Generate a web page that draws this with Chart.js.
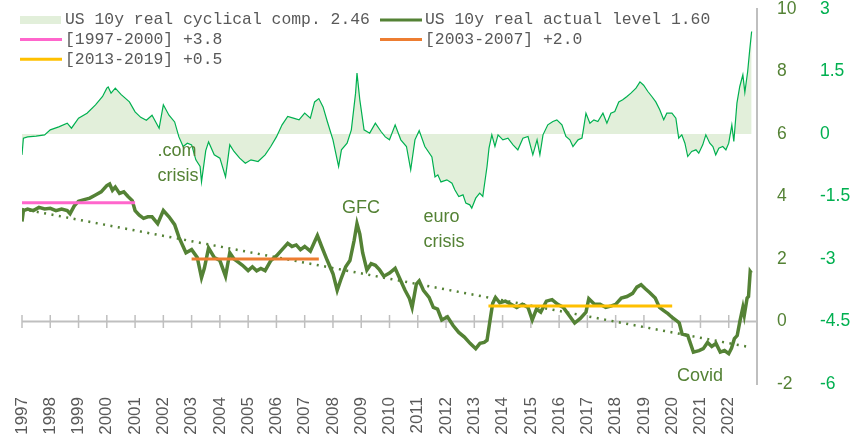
<!DOCTYPE html>
<html>
<head>
<meta charset="utf-8">
<script src="https://cdn.jsdelivr.net/npm/chart.js@4.4.1/dist/chart.umd.min.js"></script>
<style>
  html, body { margin: 0; padding: 0; background: #fff; }
  #wrap { position: relative; width: 866px; height: 437px; }
</style>
</head>
<body>
<div id="wrap"><canvas id="chart"></canvas></div>
<script>
// US 10y real yield: actual level (left scale) and cyclical component (right scale)
const levelYears = [
  1997.0, 1997.05, 1997.2, 1997.4, 1997.6, 1997.8, 1998.0, 1998.2, 1998.4, 1998.6, 1998.7, 1998.85,
  1999.0, 1999.2, 1999.4, 1999.6, 1999.8, 2000.0, 2000.1, 2000.2, 2000.3, 2000.45, 2000.6, 2000.75,
  2000.9, 2001.0, 2001.15, 2001.3, 2001.45, 2001.6, 2001.8, 2002.0, 2002.2, 2002.4, 2002.55, 2002.7,
  2002.8, 2003.0, 2003.2, 2003.35, 2003.45, 2003.6, 2003.8, 2004.0, 2004.2, 2004.35, 2004.5, 2004.65,
  2004.8, 2005.0, 2005.15, 2005.3, 2005.45, 2005.6, 2005.8, 2006.0, 2006.2, 2006.4, 2006.55, 2006.7,
  2006.85, 2007.0, 2007.2, 2007.35, 2007.45, 2007.6, 2007.8, 2008.0, 2008.15, 2008.3, 2008.45, 2008.6,
  2008.75, 2008.85, 2008.95, 2009.05, 2009.2, 2009.35, 2009.5, 2009.65, 2009.8, 2010.0, 2010.2, 2010.35,
  2010.55, 2010.7, 2010.8, 2010.95, 2011.05, 2011.2, 2011.4, 2011.55, 2011.7, 2011.85, 2012.05, 2012.25,
  2012.45, 2012.65, 2012.85, 2013.05, 2013.2, 2013.35, 2013.45, 2013.55, 2013.65, 2013.75, 2013.9, 2014.1,
  2014.3, 2014.5, 2014.7, 2014.9, 2015.05, 2015.2, 2015.35, 2015.55, 2015.75, 2015.95, 2016.15, 2016.35,
  2016.55, 2016.75, 2016.95, 2017.05, 2017.25, 2017.45, 2017.65, 2017.85, 2018.0, 2018.2, 2018.4, 2018.6,
  2018.75, 2018.9, 2019.05, 2019.2, 2019.4, 2019.55, 2019.7, 2019.85, 2020.0, 2020.15, 2020.25, 2020.35,
  2020.55, 2020.75, 2020.95, 2021.1, 2021.25, 2021.4, 2021.55, 2021.7, 2021.85, 2022.0, 2022.1, 2022.2,
  2022.3, 2022.4, 2022.5, 2022.55, 2022.65, 2022.7, 2022.76, 2022.8
];
const levelValues = [
  3.2, 3.55, 3.6, 3.55, 3.65, 3.6, 3.62, 3.55, 3.6, 3.55, 3.45, 3.7,
  3.85, 3.9, 3.95, 4.05, 4.15, 4.35, 4.4, 4.2, 4.3, 4.1, 4.15, 4.0,
  3.87, 3.55, 3.4, 3.3, 3.35, 3.35, 3.13, 3.55, 3.35, 3.1, 2.7, 2.4,
  2.2, 2.3, 2.05, 1.4, 1.7, 2.35, 2.05, 1.95, 1.45, 2.2, 2.0, 1.9,
  1.8, 1.63, 1.75, 1.62, 1.7, 1.63, 1.95, 2.1, 2.3, 2.5, 2.4, 2.45,
  2.3, 2.4, 2.25, 2.55, 2.75, 2.4, 1.95, 1.53, 1.0, 1.4, 1.75, 1.95,
  2.6, 3.13, 2.8, 2.2, 1.65, 1.85, 1.8, 1.65, 1.45, 1.55, 1.7, 1.4,
  1.0, 0.75, 0.45, 1.2, 1.3, 1.0, 0.77, 0.45, 0.4, 0.05, 0.15, -0.13,
  -0.35, -0.5, -0.7, -0.87, -0.7, -0.67, -0.6, 0.0, 0.58, 0.77, 0.6, 0.65,
  0.55, 0.45, 0.55, 0.45, 0.05, 0.4, 0.3, 0.65, 0.7, 0.55, 0.45, 0.2,
  -0.05, 0.1, 0.3, 0.73, 0.55, 0.55, 0.45, 0.5, 0.55, 0.75, 0.8, 0.9,
  1.1, 1.18, 1.05, 0.93, 0.75, 0.45, 0.35, 0.25, 0.13, 0.03, -0.05, -0.4,
  -0.45, -0.98, -0.93, -0.87, -0.67, -0.8, -0.7, -0.98, -0.93, -1.03, -0.85, -0.55,
  -0.45, 0.03, 0.45, 0.2, 0.75, 0.8, 1.6, 1.55
];

const cycYears = [
  1997.0, 1997.05, 1997.2, 1997.5, 1997.8, 1998.0, 1998.3, 1998.6, 1998.75, 1999.0, 1999.3, 1999.6,
  1999.85, 2000.0, 2000.05, 2000.15, 2000.3, 2000.5, 2000.8, 2001.0, 2001.2, 2001.4, 2001.6, 2001.85,
  2002.0, 2002.2, 2002.4, 2002.55, 2002.7, 2002.85, 2003.0, 2003.15, 2003.3, 2003.35, 2003.5, 2003.6,
  2003.8, 2004.0, 2004.2, 2004.35, 2004.5, 2004.7, 2004.9, 2005.1, 2005.35, 2005.6, 2005.8, 2006.0,
  2006.2, 2006.4, 2006.6, 2006.8, 2007.0, 2007.2, 2007.35, 2007.5, 2007.65, 2007.8, 2008.0, 2008.15,
  2008.2, 2008.3, 2008.5, 2008.65, 2008.8, 2008.85, 2008.95, 2009.1, 2009.3, 2009.5, 2009.7, 2009.85,
  2010.0, 2010.2, 2010.4, 2010.6, 2010.75, 2010.9, 2011.05, 2011.25, 2011.5, 2011.61, 2011.71, 2011.82,
  2012.03, 2012.21, 2012.31, 2012.45, 2012.6, 2012.7, 2012.84, 2012.91, 2013.05, 2013.19, 2013.3, 2013.45,
  2013.52, 2013.62, 2013.73, 2013.84, 2014.01, 2014.19, 2014.37, 2014.54, 2014.72, 2014.9, 2015.07, 2015.22,
  2015.32, 2015.43, 2015.6, 2015.78, 2015.92, 2016.1, 2016.24, 2016.38, 2016.49, 2016.67, 2016.81, 2016.95,
  2017.09, 2017.23, 2017.37, 2017.55, 2017.69, 2017.83, 2017.97, 2018.11, 2018.25, 2018.4, 2018.54, 2018.72,
  2018.86, 2018.99, 2019.14, 2019.28, 2019.42, 2019.56, 2019.7, 2019.81, 2019.99, 2020.13, 2020.23, 2020.34,
  2020.45, 2020.55, 2020.69, 2020.84, 2020.94, 2021.08, 2021.19, 2021.33, 2021.44, 2021.54, 2021.65, 2021.79,
  2021.9, 2022.0, 2022.11, 2022.18, 2022.29, 2022.39, 2022.5, 2022.57, 2022.67, 2022.74, 2022.81
];
const cycValues = [
  -0.5, -0.1, -0.07, -0.05, -0.02, 0.1, 0.17, 0.26, 0.14, 0.38, 0.5, 0.7,
  0.9, 1.1, 1.13, 0.98, 1.1, 0.95, 0.77, 0.53, 0.4, 0.33, 0.45, 0.14,
  0.7, 0.45, 0.29, -0.07, -0.3, -0.22, -0.26, -0.62, -0.78, -1.15, -0.4, -0.19,
  -0.5, -0.58, -1.03, -0.26, -0.42, -0.58, -0.7, -0.62, -0.66, -0.5, -0.3, -0.07,
  0.22, 0.42, 0.38, 0.34, 0.5, 0.38, 0.77, 0.85, 0.65, 0.3, -0.14, -0.62,
  -0.78, -0.38, -0.22, 0.1, 0.98, 1.46, 0.82, 0.1, 0.02, 0.26, 0.06, -0.07,
  -0.14, 0.22, -0.14, -0.3, -0.86, -0.14, 0.08, -0.3, -0.55, -1.03, -0.98, -1.15,
  -1.1, -1.18, -1.34, -1.5, -1.46, -1.66, -1.7, -1.78, -1.54, -1.42, -1.5, -0.78,
  -0.34, -0.02, -0.3, -0.02, -0.14, -0.1, -0.26, -0.38, -0.1, -0.06, -0.5, -0.14,
  -0.5, -0.02, 0.22, 0.3, 0.34, 0.22, -0.06, -0.14, -0.3, -0.14, -0.1, 0.5,
  0.26, 0.34, 0.3, 0.5, 0.26, 0.5, 0.54, 0.77, 0.82, 0.9, 0.98, 1.1,
  1.25, 1.17, 1.02, 0.9, 0.77, 0.58, 0.34, 0.5, 0.5, 0.38, -0.1, -0.02,
  -0.22, -0.54, -0.42, -0.38, -0.46, -0.26, -0.02, -0.22, -0.3, -0.5, -0.34, -0.3,
  -0.38, -0.22, 0.22, -0.18, 0.74, 1.14, 1.42, 1.0, 1.5, 2.0, 2.46
];

// regime averages (flat segments on the level scale)
const rangeLabels = ['[1997-2000] +3.8', '[2003-2007] +2.0', '[2013-2019] +0.5'];
const rangeStart = [1997.0, 2003.0, 2013.5];
const rangeEnd = [2001.0, 2007.5, 2020.0];
const rangeLevel = [3.8, 2.0, 0.5];
const rangeColors = ['#FF66CC', '#ED7D31', '#FFC000'];

// long-run trend of the actual level
const trendYears = [1997.0, 2022.8];
const trendValues = [3.6, -0.83];

// event notes, placed in data coordinates (year, level)
const noteLines = [['.com', 'crisis'], ['GFC'], ['euro', 'crisis'], ['Covid']];
const noteYears = [2001.79, 2008.32, 2011.2, 2020.17];
const noteLevels = [4.51, 3.46, 2.37, -1.89];

const GREEN_DARK = '#548235';
const GREEN_LIGHT = '#00B050';
const SANS = '"Liberation Sans", Arial, sans-serif';

function pts(xs, ys) {
  return xs.map((x, i) => ({ x: x, y: ys[i] }));
}

const datasets = [
  {
    label: 'US 10y real cyclical comp. 2.46',
    data: pts(cycYears, cycValues),
    yAxisID: 'yC',
    borderColor: GREEN_LIGHT,
    borderWidth: 1.2,
    backgroundColor: '#E2EFDA',
    fill: 'origin',
    order: 4,
    inLegend: true
  },
  {
    label: 'US 10y real actual level 1.60',
    data: pts(levelYears, levelValues),
    yAxisID: 'yL',
    borderColor: GREEN_DARK,
    borderWidth: 3.5,
    fill: false,
    order: 2,
    inLegend: true
  }
];
rangeLabels.forEach((lab, i) => {
  datasets.push({
    label: lab,
    data: [{ x: rangeStart[i], y: rangeLevel[i] }, { x: rangeEnd[i], y: rangeLevel[i] }],
    yAxisID: 'yL',
    borderColor: rangeColors[i],
    borderWidth: 3,
    fill: false,
    order: 0,
    inLegend: true
  });
});
datasets.push({
  label: 'trend',
  data: pts(trendYears, trendValues),
  yAxisID: 'yL',
  borderColor: GREEN_DARK,
  borderWidth: 2.5,
  borderDash: [2, 5.5],
  fill: false,
  order: 1,
  inLegend: false
});

// horizontal axis line drawn at level 0, with a tick at every year
const zeroAxis = {
  id: 'zeroAxis',
  beforeDatasetsDraw(chart) {
    const ctx = chart.ctx;
    const xs = chart.scales.x;
    const y0 = chart.scales.yL.getPixelForValue(0);
    ctx.save();
    ctx.strokeStyle = '#BFBFBF';
    ctx.lineWidth = 2;
    ctx.beginPath();
    ctx.moveTo(xs.left, y0);
    ctx.lineTo(xs.right, y0);
    ctx.stroke();
    ctx.lineWidth = 1.5;
    xs.ticks.forEach(t => {
      const px = xs.getPixelForValue(t.value);
      ctx.beginPath();
      ctx.moveTo(px, y0 - 6.5);
      ctx.lineTo(px, y0 + 6.5);
      ctx.stroke();
    });
    ctx.restore();
  }
};

const notes = {
  id: 'notes',
  afterDatasetsDraw(chart) {
    const ctx = chart.ctx;
    ctx.save();
    ctx.font = '18px ' + SANS;
    ctx.fillStyle = GREEN_DARK;
    ctx.textBaseline = 'alphabetic';
    noteLines.forEach((lines, i) => {
      const px = chart.scales.x.getPixelForValue(noteYears[i]);
      const py = chart.scales.yL.getPixelForValue(noteLevels[i]);
      const n = lines.length;
      lines.forEach((s, j) => {
        ctx.fillText(s, px, py - (n - 1 - j) * 25);
      });
    });
    ctx.restore();
  }
};

// two-column legend in the top-left corner
const pairLegend = {
  id: 'pairLegend',
  afterDraw(chart) {
    const ctx = chart.ctx;
    const items = chart.data.datasets.filter(d => d.inLegend);
    ctx.save();
    ctx.font = '16.4px "Liberation Mono", "Courier New", monospace';
    ctx.textBaseline = 'middle';
    items.forEach((d, i) => {
      const x = i % 2 ? 380 : 20;
      const y = 20 + Math.floor(i / 2) * 19.6;
      if (d.fill) {
        ctx.fillStyle = d.backgroundColor;
        ctx.fillRect(x, y - 4, 41, 8);
      } else {
        ctx.strokeStyle = d.borderColor;
        ctx.lineWidth = 3;
        ctx.beginPath();
        ctx.moveTo(x, y);
        ctx.lineTo(x + 42, y);
        ctx.stroke();
      }
      ctx.fillStyle = '#595959';
      ctx.fillText(d.label, x + 45, y);
    });
    ctx.restore();
  }
};

new Chart(document.getElementById('chart'), {
  type: 'line',
  data: { datasets: datasets },
  options: {
    responsive: true,
    maintainAspectRatio: false,
    animation: false,
    layout: { padding: { left: 22, top: 9, right: 0, bottom: 0 } },
    elements: { point: { radius: 0 }, line: { tension: 0 } },
    plugins: {
      legend: { display: false },
      tooltip: { enabled: false },
      title: { display: false }
    },
    scales: {
      x: {
        type: 'linear',
        min: 1997,
        max: 2023,
        grid: { display: false, drawTicks: false },
        border: { display: false },
        ticks: {
          stepSize: 1,
          autoSkip: false,
          minRotation: 90,
          maxRotation: 90,
          padding: 13,
          color: '#595959',
          font: { family: SANS, size: 17 },
          callback: v => (v < 2023 ? String(v) : '')
        },
        afterFit: s => { s.height = 53; }
      },
      yL: {
        position: 'right',
        min: -2,
        max: 10,
        // invisible tick marks give the gap between the axis line and its labels
        grid: { display: true, drawOnChartArea: false, drawTicks: true, tickLength: 20, tickColor: 'rgba(0,0,0,0)' },
        border: { display: true, color: '#BFBFBF', width: 2 },
        ticks: {
          stepSize: 2,
          padding: 0,
          color: GREEN_DARK,
          font: { family: SANS, size: 17.5, lineHeight: 1 }
        },
        afterFit: s => { s.width = 63; }
      },
      yC: {
        position: 'right',
        min: -6,
        max: 3,
        grid: { display: false, drawTicks: false },
        border: { display: false },
        ticks: {
          stepSize: 1.5,
          padding: 0,
          color: GREEN_LIGHT,
          font: { family: SANS, size: 17.5, lineHeight: 1 }
        },
        afterFit: s => { s.width = 46; }
      }
    }
  },
  plugins: [zeroAxis, notes, pairLegend]
});
</script>
</body>
</html>
